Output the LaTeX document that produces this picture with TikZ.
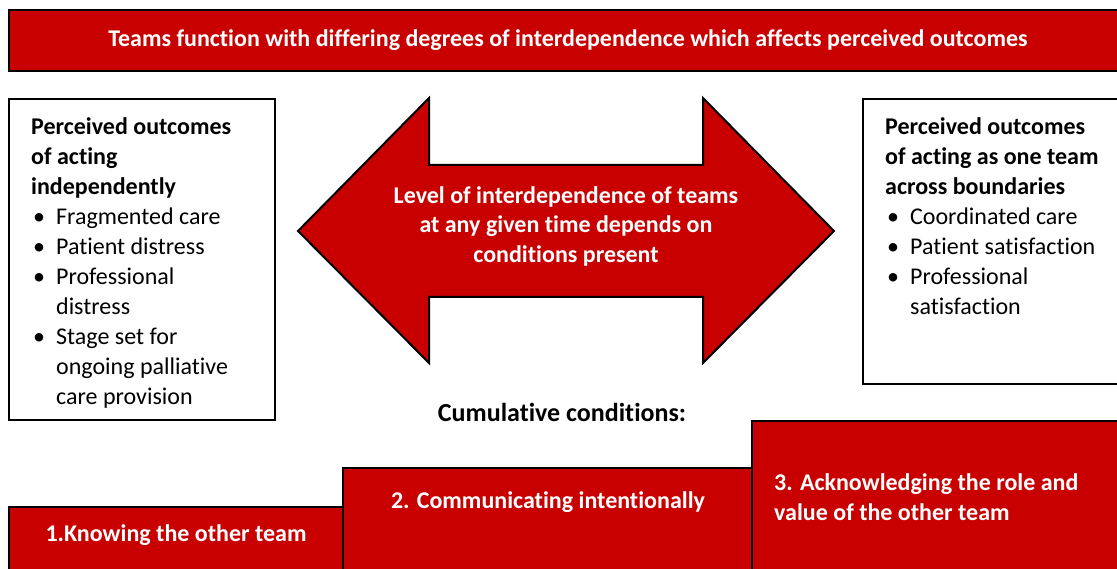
\documentclass[tikz,border=0pt]{standalone}
\usepackage{fontspec}
\setmainfont{Carlito}[Ligatures=NoCommon]
\definecolor{teamred}{HTML}{C80000}
\tikzset{
  redbox/.style={draw=black, line width=2pt, fill=teamred},
  whitebox/.style={draw=black, line width=2pt, fill=white},
  redtext/.style={text=white, inner sep=0pt, font=\bfseries\fontsize{24}{29.5}\selectfont},
  boxtext/.style={inner sep=0pt, anchor=north west, font=\fontsize{24}{30}\selectfont},
}
\newcommand{\pt}{\textbullet}
\begin{document}
\begin{tikzpicture}[x=1pt,y=-1pt]
  \useasboundingbox (0,0) rectangle (1117,569);
  % banner
  \draw[redbox] (9,10) rectangle (1130,71);
  \node[redtext] (title) at (568,40) {Teams function with differing degrees of interdependence which affects perceived outcomes};
  % outcome boxes
  \draw[whitebox] (9,99) rectangle (275,420);
  \node[boxtext] (indep) at (31,113) {%
    \begin{tabular}{@{\hspace{2pt}}c@{\hspace{11pt}}l@{}}
      \multicolumn{2}{@{}l@{}}{\bfseries Perceived outcomes}\\
      \multicolumn{2}{@{}l@{}}{\bfseries of acting}\\
      \multicolumn{2}{@{}l@{}}{\bfseries independently}\\
      \pt & Fragmented care\\
      \pt & Patient distress\\
      \pt & Professional\\
          & distress\\
      \pt & Stage set for\\
          & ongoing palliative\\
          & care provision
    \end{tabular}};
  \draw[whitebox] (863,99) rectangle (1130,384);
  \node[boxtext] (oneteam) at (885,113) {%
    \begin{tabular}{@{\hspace{2pt}}c@{\hspace{11pt}}l@{}}
      \multicolumn{2}{@{}l@{}}{\bfseries Perceived outcomes}\\
      \multicolumn{2}{@{}l@{}}{\bfseries of acting as one team}\\
      \multicolumn{2}{@{}l@{}}{\bfseries across boundaries}\\
      \pt & Coordinated care\\
      \pt & Patient satisfaction\\
      \pt & Professional\\
          & satisfaction
    \end{tabular}};
  % double arrow
  \draw[redbox] (298,231) -- (429,98) -- (429,165) -- (703,165) -- (703,98)
    -- (834,231) -- (703,363) -- (703,297) -- (429,297) -- (429,363) -- cycle;
  \node[redtext, align=center] (level) at (566,226) {Level of interdependence of teams\\at any given time depends on\\conditions present};
  % steps
  \node[font=\bfseries\fontsize{26}{30}\selectfont, inner sep=0pt] (cumul) at (562,412) {Cumulative conditions:};
  \draw[redbox] (9,507) rectangle (343,580);
  \draw[redbox] (343,468) rectangle (752,580);
  \draw[redbox] (752,421) rectangle (1130,580);
  \node[redtext] (know) at (176,535) {1.Knowing the other team};
  \node[redtext] (comm) at (548,502) {2. Communicating intentionally};
  \node[redtext, align=left, anchor=west] (ack) at (774,497) {3. Acknowledging the role and\\value of the other team};
\end{tikzpicture}
\end{document}
